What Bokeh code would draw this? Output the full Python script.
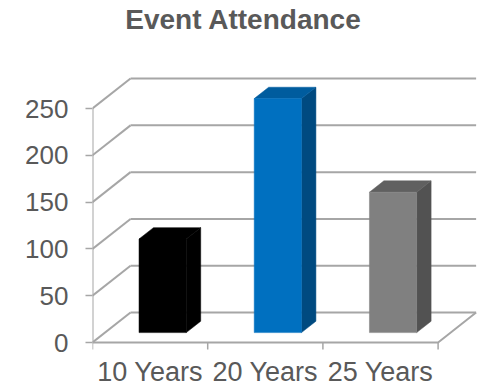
from bokeh.plotting import figure
from bokeh.models import FixedTicker, Range1d
from bokeh.core.properties import value
from bokeh.embed import file_html
from bokeh.resources import INLINE

# Data
categories = ["10 Years", "20 Years", "25 Years"]
attendance = [100, 250, 150]
y_ticks = [0, 50, 100, 150, 200, 250]
chart_title = "Event Attendance"

# Face colours per bar: front, right side, top
front_colors = ["#000000", "#0070C0", "#808080"]
side_colors = ["#000000", "#004A80", "#525252"]
top_colors = ["#000000", "#005C9E", "#606060"]

GRID = "#A6A6A6"
TEXT = "#595959"
FONT = "Liberation Sans"

# Oblique projection: a point (category position, value, depth t in [0, 1])
# is shifted right and up as it goes back into the chart.
DEPTH_DX = 0.33   # category units at full depth
DEPTH_DY = 32.0   # value units at full depth
BAR_T0, BAR_T1 = 0.33, 0.71
BAR_WIDTH = 0.41


def proj(cx, v, t):
    return cx + t * DEPTH_DX, v + t * DEPTH_DY


n = len(categories)
W, H = 481, 385
left, right = 92, 3
floor_px = 342                  # canvas row of the value 0 line
px_per_unit = 234.0 / 250.0     # vertical scale
px_per_cat = 115.2              # horizontal scale
x_start = 0.0
x_end = x_start + (W - left - right) / px_per_cat
y_start = -(H - floor_px) / px_per_unit
y_end = floor_px / px_per_unit

p = figure(width=W, height=H, output_backend="svg", toolbar_location=None,
           x_range=Range1d(x_start, x_end), y_range=Range1d(y_start, y_end),
           x_axis_location=None,
           min_border_left=left, min_border_right=right,
           min_border_top=0, min_border_bottom=0)
p.outline_line_color = None
p.grid.visible = False
p.background_fill_color = "white"
p.border_fill_color = "white"

# Walls and floor
top_val = max(y_ticks)
xs, ys = [], []
for v in y_ticks:
    # back wall line
    a = proj(0, v, 1); b = proj(n, v, 1)
    xs.append([a[0], b[0]]); ys.append([a[1], b[1]])
    # left wall line
    a = proj(0, v, 0); b = proj(0, v, 1)
    xs.append([a[0], b[0]]); ys.append([a[1], b[1]])
# floor front edge and right edge
a = proj(0, 0, 0); b = proj(n, 0, 0); c = proj(n, 0, 1)
xs.append([a[0], b[0], c[0]]); ys.append([a[1], b[1], c[1]])
# front vertical axis
a = proj(0, 0, 0); b = proj(0, top_val, 0)
xs.append([a[0], b[0]]); ys.append([a[1], b[1]])
p.multi_line(xs, ys, line_color=GRID, line_width=2)

# Category boundary tick marks below the floor
tick_len = 7 / px_per_unit
p.segment(x0=list(range(n + 1)), y0=[0] * (n + 1),
          x1=list(range(n + 1)), y1=[-tick_len] * (n + 1),
          line_color=GRID, line_width=1.5)

# Bars
for i, val in enumerate(attendance):
    xl = i + 0.5 - BAR_WIDTH / 2
    xr = i + 0.5 + BAR_WIDTH / 2
    side = [proj(xr, 0, BAR_T0), proj(xr, 0, BAR_T1),
            proj(xr, val, BAR_T1), proj(xr, val, BAR_T0)]
    topf = [proj(xl, val, BAR_T0), proj(xr, val, BAR_T0),
            proj(xr, val, BAR_T1), proj(xl, val, BAR_T1)]
    front = [proj(xl, 0, BAR_T0), proj(xr, 0, BAR_T0),
             proj(xr, val, BAR_T0), proj(xl, val, BAR_T0)]
    for face, col in ((side, side_colors[i]), (topf, top_colors[i]),
                      (front, front_colors[i])):
        p.patch([q[0] for q in face], [q[1] for q in face],
                fill_color=col, line_color=col, line_width=0.5)

# Category labels under the floor
label_y = -(371 - floor_px) / px_per_unit
p.text(x=[i + 0.5 for i in range(n)], y=[label_y] * n, text=categories,
       text_font=value(FONT), text_font_size="27px", text_color=TEXT,
       text_align="center", text_baseline="alphabetic")

# Chart title
title_x = (243 - left) / px_per_cat
title_y = (floor_px - 19) / px_per_unit
p.text(x=[title_x], y=[title_y], text=[chart_title],
       text_font=value(FONT), text_font_size="28px", text_font_style="bold",
       text_color=TEXT, text_align="center", text_baseline="alphabetic")

# Y axis
ya = p.yaxis[0]
ya.ticker = FixedTicker(ticks=y_ticks)
ya.axis_line_color = None
ya.major_tick_line_color = GRID
ya.major_tick_line_width = 1.5
ya.major_tick_out = 7
ya.major_tick_in = 0
ya.minor_tick_line_color = None
ya.major_label_standoff = 17
ya.major_label_text_font = FONT
ya.major_label_text_font_size = "26px"
ya.major_label_text_color = TEXT

open("out.html", "w").write(file_html(p, INLINE))
